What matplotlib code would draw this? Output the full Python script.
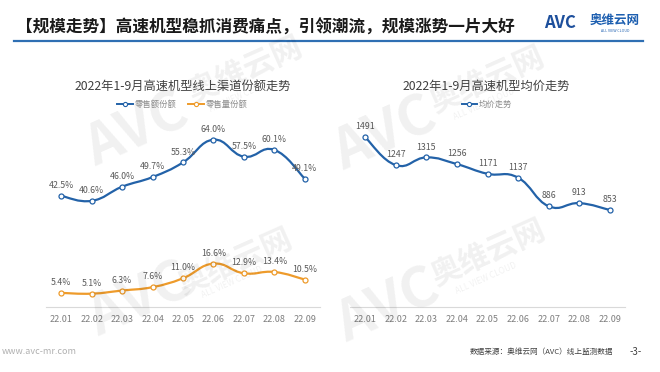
import numpy as np
import matplotlib
matplotlib.use("Agg")
import matplotlib.pyplot as plt
from matplotlib.path import Path
from matplotlib.patches import PathPatch
from matplotlib.lines import Line2D

plt.rcParams['font.family'] = ['Noto Sans CJK SC', 'DejaVu Sans']

# data
months = ["22.01", "22.02", "22.03", "22.04", "22.05", "22.06", "22.07", "22.08", "22.09"]
sales_share = [42.5, 40.6, 46.0, 49.7, 55.3, 64.0, 57.5, 60.1, 49.1]    # 零售额份额 (%)
volume_share = [5.4, 5.1, 6.3, 7.6, 11.0, 16.6, 12.9, 13.4, 10.5]      # 零售量份额 (%)
avg_price = [1491, 1247, 1315, 1256, 1171, 1137, 886, 913, 853]        # 均价走势

BLUE = "#2362a8"
ORANGE = "#ee9b2b"
W, H = 660, 372


def fx(px):
    return px / W


def fy(py):
    return 1 - py / H


def smooth_path(xs, ys, k=0.22):
    """echarts-style smooth line as cubic bezier segments through the points"""
    pts = np.column_stack([xs, ys]).astype(float)
    n = len(pts)
    verts = [pts[0]]
    codes = [Path.MOVETO]
    for i in range(n - 1):
        p0 = pts[max(i - 1, 0)]
        p1 = pts[i]
        p2 = pts[i + 1]
        p3 = pts[min(i + 2, n - 1)]
        verts += [p1 + (p2 - p0) * k, p2 - (p3 - p1) * k, p2]
        codes += [Path.CURVE4] * 3
    return Path(verts, codes)


def draw_series(ax, values, color, fmt):
    x = np.arange(len(values))
    ax.add_patch(PathPatch(smooth_path(x, values), fill=False, edgecolor=color, lw=1.6, zorder=3))
    ax.plot(x, values, "o", mfc="white", mec=color, ms=3.6, mew=0.9, zorder=4)
    for xi, v in zip(x, values):
        ax.annotate(fmt(v), (xi, v), xytext=(0, 7.5), textcoords="offset points",
                    ha="center", va="center", fontsize=6.3, color="#595959", zorder=5)


def style_axis(ax):
    for s in ("top", "right", "left"):
        ax.spines[s].set_visible(False)
    ax.spines["bottom"].set_color("#d9d9d9")
    ax.spines["bottom"].set_linewidth(0.8)
    ax.set_yticks([])
    ax.set_xticks(range(len(months)))
    ax.set_xticklabels(months, fontsize=6.5, color="#7f7f7f")
    ax.tick_params(axis="x", length=0, pad=6)
    ax.set_xlim(-0.5, len(months) - 0.5)
    ax.patch.set_alpha(0)


fig = plt.figure(figsize=(6.6, 3.72), dpi=100)

# watermarks (AVC, 奥维云网, ALL VIEW CLOUD centres in pixels)
marks = [(140, 300, 235, 262, 232, 282), (388, 306, 488, 253, 486, 278),
         (137, 130, 245, 70, 240, 96), (385, 134, 487, 80, 484, 104)]
for ax_, ay, bx, by, cx, cy in marks:
    fig.text(fx(ax_), fy(ay), "AVC", fontsize=40, fontweight="bold", style="italic",
             color="#000000", alpha=0.06, rotation=24, ha="center", va="center")
    fig.text(fx(bx), fy(by), "奥维云网", fontsize=22, fontweight="bold",
             color="#000000", alpha=0.06, rotation=24, ha="center", va="center")
    fig.text(fx(cx), fy(cy), "ALL VIEW CLOUD", fontsize=6, color="#000000", alpha=0.06,
             rotation=24, ha="center", va="center")

# header
fig.text(fx(16), fy(28), "【规模走势】高速机型稳抓消费痛点，引领潮流，规模涨势一片大好",
         fontsize=12, fontweight="bold", color="#1a1a1a", ha="left", va="center")
fig.add_artist(Line2D([fx(14), fx(643)], [fy(41), fy(41)], color="#2f6fb3", lw=1.6))
fig.text(fx(544), fy(23), "AVC", fontsize=12, fontweight="heavy", style="italic",
         color="#1d4f9c", ha="left", va="center")
fig.text(fx(590), fy(20), "奥维云网", fontsize=9, fontweight="bold",
         color="#1d5fb0", ha="left", va="center")
fig.text(fx(615), fy(31), "ALL VIEW CLOUD", fontsize=2.6, color="#1d5fb0",
         ha="center", va="center")

# left chart: online share
ax1 = fig.add_axes([fx(46), fy(307), fx(320) - fx(46), fy(124) - fy(307)])
style_axis(ax1)
ax1.set_ylim(0, 70)
draw_series(ax1, sales_share, BLUE, lambda v: f"{v:.1f}%")
draw_series(ax1, volume_share, ORANGE, lambda v: f"{v:.1f}%")
fig.text(fx(183), fy(86), "2022年1-9月高速机型线上渠道份额走势", fontsize=8.8,
         color="#404040", ha="center", va="center")
h1 = [Line2D([], [], color=c, lw=1.4, marker="o", mfc="white", mec=c, ms=3, mew=0.8)
      for c in (BLUE, ORANGE)]
fig.legend(h1, ["零售额份额", "零售量份额"], loc="center", bbox_to_anchor=(fx(182), fy(104)),
           ncol=2, frameon=False, fontsize=6, labelcolor="#8c8c8c", handlelength=1.9,
           handletextpad=0.2, columnspacing=1.4)

# right chart: average price
ax2 = fig.add_axes([fx(350), fy(307), fx(625) - fx(350), fy(125) - fy(307)])
style_axis(ax2)
ax2.set_ylim(0, 1600)
draw_series(ax2, avg_price, BLUE, lambda v: f"{v:.0f}")
fig.text(fx(486), fy(86), "2022年1-9月高速机型均价走势", fontsize=8.8,
         color="#404040", ha="center", va="center")
h2 = [Line2D([], [], color=BLUE, lw=1.4, marker="o", mfc="white", mec=BLUE, ms=3, mew=0.8)]
fig.legend(h2, ["均价走势"], loc="center", bbox_to_anchor=(fx(487), fy(104)),
           frameon=False, fontsize=6, labelcolor="#8c8c8c", handlelength=1.9,
           handletextpad=0.2)

# footer
fig.text(fx(2), fy(352), "www.avc-mr.com", fontsize=6.5, color="#b0b0b0", ha="left", va="center")
fig.text(fx(613), fy(352), "数据来源：奥维云网（AVC）线上监测数据", fontsize=5.5,
         color="#404040", ha="right", va="center")
fig.text(fx(636), fy(352), "-3-", fontsize=7, color="#404040", ha="center", va="center")

fig.savefig("out.png", dpi=100)
